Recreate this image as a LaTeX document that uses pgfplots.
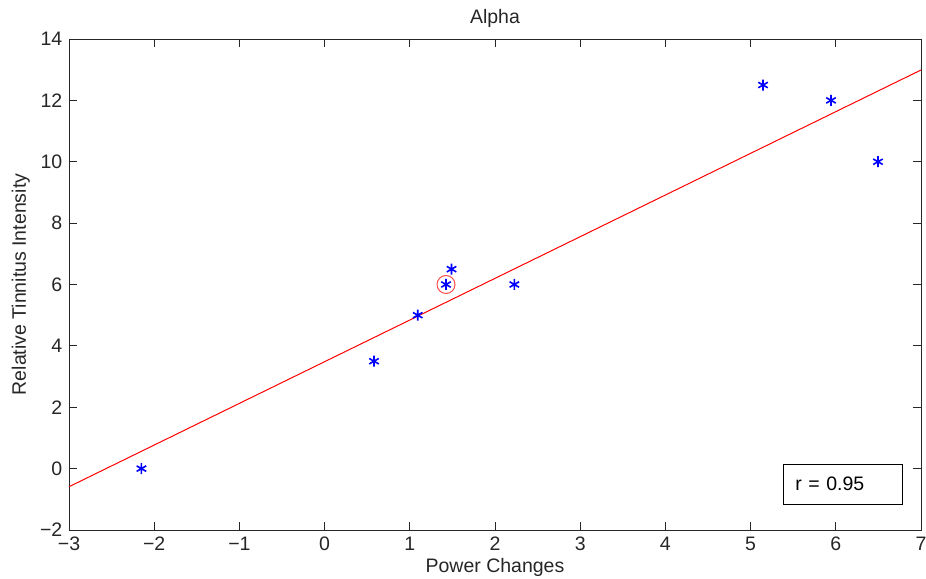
\documentclass[border=0pt]{standalone}
\usepackage{fontspec}
\setmainfont{Liberation Sans}
\usepackage{pgfplots}
\pgfplotsset{compat=1.18}
\begin{document}
\fontsize{19.5}{23}\selectfont
\begin{tikzpicture}
\begin{axis}[
  name=ax,
  scale only axis, width=852pt, height=491pt,
  xmin=-3, xmax=7, ymin=-2, ymax=14,
  xtick={-3,-2,-1,0,1,2,3,4,5,6,7},
  xticklabels={−3,−2,−1,0,1,2,3,4,5,6,7},
  ytick={-2,0,2,4,6,8,10,12,14},
  yticklabels={−2,0,2,4,6,8,10,12,14},
  tick align=inside, major tick length=8pt,
  axis line style={line width=0.9pt, black!85},
  every tick/.style={black!85, line width=0.8pt},
  tick label style={font=\fontsize{19.5}{23}\selectfont, black!85},
  label style={font=\fontsize{19.5}{23}\selectfont, black!85},
  xlabel style={yshift=5pt},
  ylabel style={yshift=-3pt},
  title style={font=\fontsize{19.5}{23}\selectfont, black!85, yshift=-1pt},
  title={Alpha},
  xlabel={Power Changes},
  ylabel={Relative Tinnitus Intensity},
  clip=false,
]
\addplot[red, line width=1pt] coordinates {(-3,-0.59) (7,12.99)};
\addplot[only marks, mark=asterisk, mark size=5.5pt, blue, line width=1.6pt]
  coordinates {(-2.15,0) (0.58,3.5) (1.093,5) (1.425,6) (1.49,6.5) (2.227,6) (5.146,12.5) (5.944,12) (6.495,10)};
\addplot[only marks, mark=o, mark size=9pt, draw=red!70, line width=1pt]
  coordinates {(1.425,6)};
\node[draw=black, line width=0.9pt, anchor=west, inner xsep=12pt, minimum height=40pt, text width=95pt, align=left, font=\fontsize{19.5}{23}\selectfont]
  at (axis cs:5.38,-0.5) {r = 0.95};
\end{axis}
\pgfresetboundingbox
\path[use as bounding box] ([shift={(-69pt,-48.3pt)}]ax.south west) rectangle ([shift={(5pt,39pt)}]ax.north east);
\end{tikzpicture}
\end{document}
